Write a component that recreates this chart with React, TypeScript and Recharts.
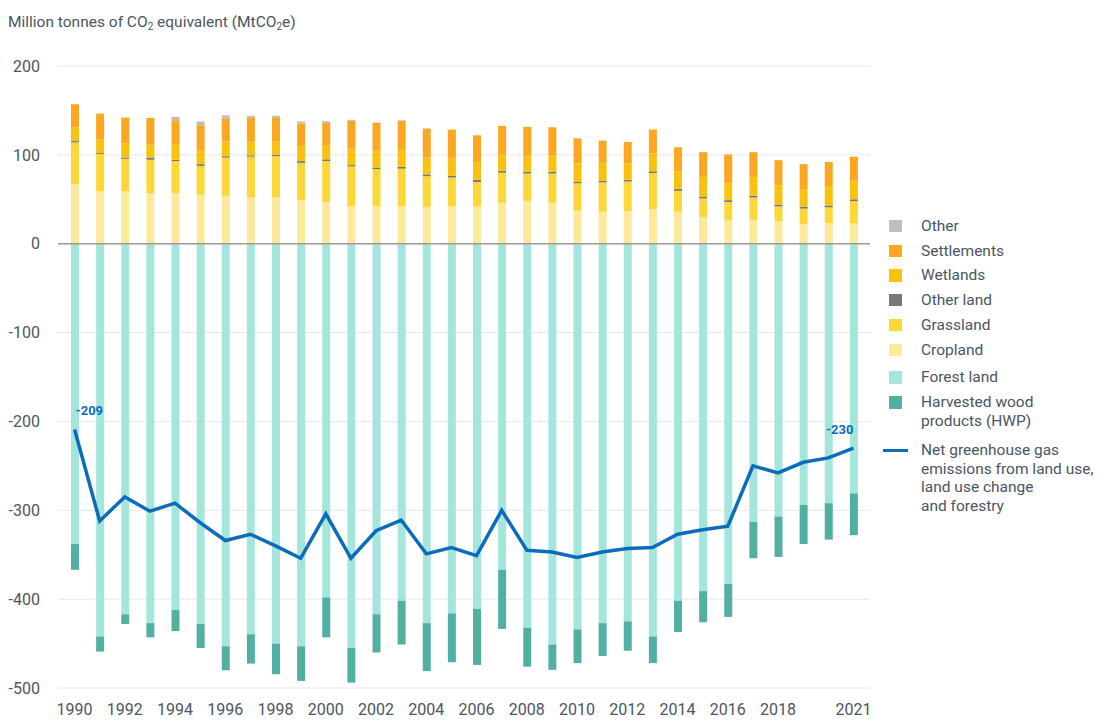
import React from 'react';
import {
  ComposedChart,
  Bar,
  Line,
  XAxis,
  YAxis,
  CartesianGrid,
  ReferenceLine,
  Legend,
  LabelList,
} from 'recharts';

const years = [
  1990, 1991, 1992, 1993, 1994, 1995, 1996, 1997, 1998, 1999, 2000, 2001, 2002, 2003, 2004, 2005,
  2006, 2007, 2008, 2009, 2010, 2011, 2012, 2013, 2014, 2015, 2016, 2017, 2018, 2019, 2020, 2021,
];
const cropland = [
  67, 59, 59, 57, 57, 55, 54, 52, 52, 49, 47, 42, 42, 42, 41.5, 42,
  42, 46, 48, 46, 37, 36, 36.5, 39, 36, 30, 26, 27, 25.5, 22, 23, 23,
];
const grassland = [
  47, 42, 36.5, 37.5, 36, 32.5, 43, 46, 46.5, 42, 46, 45, 42, 42.5, 34.5, 32.5,
  27.5, 34, 31, 33, 31, 33, 33.5, 40.5, 23.5, 21, 21, 25, 16.5, 17.5, 18, 25,
];
const otherLand = [
  1.5, 1, 1.5, 2, 1.5, 2, 1.5, 1.5, 1.5, 2, 2, 1.5, 1.5, 2, 2, 2,
  2.5, 2, 2, 2, 1.5, 2, 2, 2, 2, 2, 2, 2, 2, 2, 2, 2,
];
const wetlands = [
  15.5, 15.5, 16, 15, 16.5, 16, 16.5, 16, 15.5, 17, 16, 19, 19, 20, 19, 20,
  20, 18, 18, 18.5, 21, 20, 18, 20, 20, 22, 19, 21, 21.5, 20, 21, 21,
];
const settlements = [
  26, 29, 29, 30, 28, 28, 25.5, 26, 26, 25.5, 25, 31, 31.5, 32, 32.5, 32,
  30, 32.5, 32.5, 31.5, 28, 25, 24.5, 27, 27, 28, 32.5, 28, 28.5, 28, 28, 27,
];
const other = [
  0, 0, 0, 0, 4, 4, 4, 2.5, 2.5, 2, 2, 1, 0.5, 0.5, 0.5, 0,
  0, 0, 0, 0, 0.5, 0, 0, 0, 0, 0, 0, 0, 0, 0, 0, 0,
];
const forestLand = [
  -338, -442, -417, -427, -412, -428, -453, -439.5, -450, -453, -398, -455, -417, -402, -427, -416,
  -411, -367, -432, -451, -434, -427, -425, -442, -402, -391, -383, -313, -307, -294, -292, -281,
];
const hwp = [
  -29, -17, -11, -16, -24, -27, -27, -33, -34.5, -39, -45, -39, -43, -49, -54, -55,
  -63, -66.5, -44, -28.5, -38, -37, -33, -30, -35, -35, -37, -41, -45.5, -44, -41, -47,
];
const netEmissions = [
  -209, -312, -285, -301, -292, -314, -334, -327, -340, -354, -304, -354, -323, -311, -349, -342,
  -351, -300, -345, -347, -353, -347, -343, -342, -327, -322, -318, -250, -258, -246, -241, -230,
];
const xTickLabels = [
  '1990', '1992', '1994', '1996', '1998', '2000', '2002', '2004', '2006', '2008', '2010',
  '2012', '2014', '2016', '2018', '2021',
];
const yTicks = [-500, -400, -300, -200, -100, 0, 100, 200];

const data = years.map((y, i) => ({
  year: String(y),
  cropland: cropland[i],
  grassland: grassland[i],
  otherLand: otherLand[i],
  wetlands: wetlands[i],
  settlements: settlements[i],
  other: other[i],
  forestLand: forestLand[i],
  hwp: hwp[i],
  net: netEmissions[i],
}));

const COLORS = {
  other: '#bfbfbf',
  settlements: '#fba722',
  wetlands: '#f9c20f',
  otherLand: '#777777',
  grassland: '#fbd838',
  cropland: '#fce99c',
  forestLand: '#a5e6dc',
  hwp: '#52b0a3',
  net: '#0c6cbc',
};

const TEXT = '#4b5563';

const legendItems = [
  { label: ['Other'], color: COLORS.other, center: 226 },
  { label: ['Settlements'], color: COLORS.settlements, center: 251 },
  { label: ['Wetlands'], color: COLORS.wetlands, center: 275.5 },
  { label: ['Other land'], color: COLORS.otherLand, center: 300 },
  { label: ['Grassland'], color: COLORS.grassland, center: 325 },
  { label: ['Cropland'], color: COLORS.cropland, center: 350 },
  { label: ['Forest land'], color: COLORS.forestLand, center: 377.5 },
  { label: ['Harvested wood', 'products (HWP)'], color: COLORS.hwp, center: 402.5 },
  {
    label: ['Net greenhouse gas', 'emissions from land use,', 'land use change', 'and forestry'],
    color: COLORS.net,
    center: 450.5,
    line: true,
  },
];

const LEG_LEFT = 880;
const LEG_TOP = 210;
const LINE_H = 18.5;

const renderLegend = () => (
  <div style={{ position: 'relative', width: 220, height: 310, fontFamily: 'Roboto, sans-serif' }}>
    {legendItems.map((it, i) => (
      <div key={i}>
        {it.line ? (
          <div
            style={{
              position: 'absolute',
              left: 3,
              top: it.center - LEG_TOP - 1.75,
              width: 25,
              height: 3.5,
              background: it.color,
            }}
          />
        ) : (
          <div
            style={{
              position: 'absolute',
              left: 9,
              top: it.center - LEG_TOP - 6.25,
              width: 12.5,
              height: 12.5,
              background: it.color,
            }}
          />
        )}
        {it.label.map((t, j) => (
          <div
            key={j}
            style={{
              position: 'absolute',
              left: 41,
              top: it.center - LEG_TOP - LINE_H / 2 + j * LINE_H,
              height: LINE_H,
              lineHeight: `${LINE_H}px`,
              fontSize: 15.5,
              color: TEXT,
              whiteSpace: 'nowrap',
            }}
          >
            {t}
          </div>
        ))}
      </div>
    ))}
  </div>
);

const renderNetLabel = (props: any) => {
  const { x, y, index, value } = props;
  if (index !== 0 && index !== years.length - 1) return null;
  const first = index === 0;
  return (
    <text
      x={first ? x + 1 : x}
      y={y - 14}
      textAnchor={first ? 'start' : 'end'}
      fill={COLORS.net}
      fontSize={13}
      fontWeight={700}
      fontFamily="Roboto, sans-serif"
    >
      {value}
    </text>
  );
};

export default function App() {
  return (
    <div
      style={{
        position: 'absolute',
        left: 0,
        top: 0,
        width: 1100,
        height: 720,
        background: '#ffffff',
        fontFamily: 'Roboto, sans-serif',
      }}
    >
      <div
        style={{
          position: 'absolute',
          left: 8,
          top: 13,
          fontSize: 15.5,
          lineHeight: '19px',
          color: TEXT,
          whiteSpace: 'nowrap',
        }}
      >
        Million tonnes of CO
        <sub style={{ fontSize: 10, lineHeight: 0, verticalAlign: '-3px' }}>2</sub> equivalent (MtCO
        <sub style={{ fontSize: 10, lineHeight: 0, verticalAlign: '-3px' }}>2</sub>e)
      </div>
      <ComposedChart
        width={1100}
        height={720}
        data={data}
        stackOffset="sign"
        margin={{ top: 66, right: 230, bottom: 0, left: 0 }}
        barSize={8}
      >
        <CartesianGrid vertical={false} stroke="#e8e8e8" strokeWidth={1} />
        <XAxis
          dataKey="year"
          interval={0}
          tickLine={false}
          axisLine={false}
          height={32}
          tickMargin={10}
          padding={{ left: 4, right: 4 }}
          tick={{ fill: TEXT, fontSize: 16, fontFamily: 'Roboto, sans-serif' }}
          tickFormatter={(v: string) => (xTickLabels.includes(v) ? v : '')}
        />
        <YAxis
          width={58}
          domain={[-500, 200]}
          ticks={yTicks}
          interval={0}
          tickLine={false}
          axisLine={false}
          tickMargin={12}
          tick={{ fill: TEXT, fontSize: 16, fontFamily: 'Roboto, sans-serif' }}
        />
        <Legend
          layout="horizontal"
          verticalAlign="middle"
          align="center"
          content={renderLegend}
          wrapperStyle={{ position: 'absolute', left: LEG_LEFT, top: LEG_TOP, width: 220, height: 310 }}
        />
        <Bar dataKey="cropland" name="Cropland" stackId="s" fill={COLORS.cropland} isAnimationActive={false} />
        <Bar dataKey="grassland" name="Grassland" stackId="s" fill={COLORS.grassland} isAnimationActive={false} />
        <Bar dataKey="otherLand" name="Other land" stackId="s" fill={COLORS.otherLand} isAnimationActive={false} />
        <Bar dataKey="wetlands" name="Wetlands" stackId="s" fill={COLORS.wetlands} isAnimationActive={false} />
        <Bar dataKey="settlements" name="Settlements" stackId="s" fill={COLORS.settlements} isAnimationActive={false} />
        <Bar dataKey="other" name="Other" stackId="s" fill={COLORS.other} isAnimationActive={false} />
        <Bar dataKey="forestLand" name="Forest land" stackId="s" fill={COLORS.forestLand} isAnimationActive={false} />
        <Bar dataKey="hwp" name="Harvested wood products (HWP)" stackId="s" fill={COLORS.hwp} isAnimationActive={false} />
        <ReferenceLine y={0} stroke="#9a9a9a" strokeWidth={1.5} />
        <Line
          type="linear"
          dataKey="net"
          name="Net greenhouse gas emissions from land use, land use change and forestry"
          stroke={COLORS.net}
          strokeWidth={3.5}
          dot={false}
          activeDot={false}
          isAnimationActive={false}
        >
          <LabelList dataKey="net" content={renderNetLabel} />
        </Line>
      </ComposedChart>
    </div>
  );
}
